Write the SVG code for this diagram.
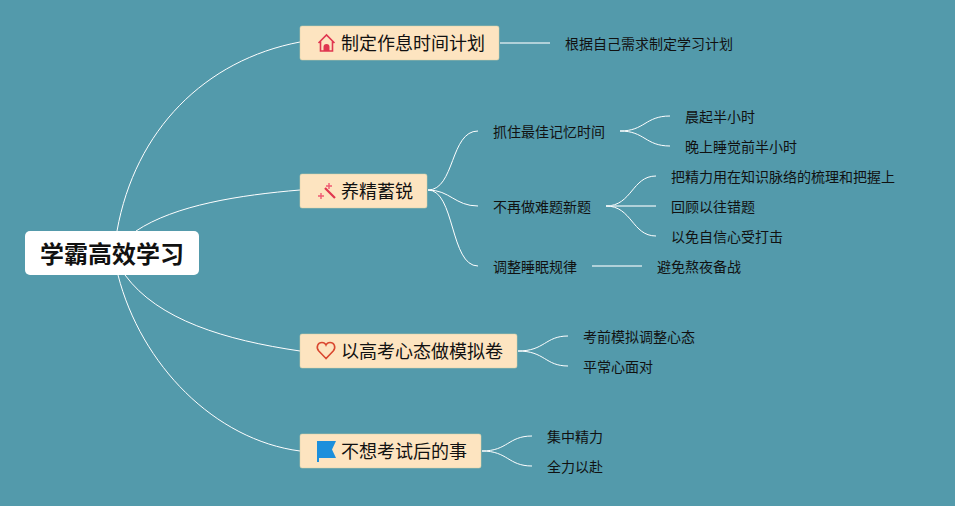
<svg xmlns="http://www.w3.org/2000/svg" width="955" height="506" viewBox="0 0 955 506">
<style>
text{font-family:"Liberation Sans","Noto Sans CJK SC",sans-serif;fill:#111}
.t{font-size:14px;dominant-baseline:central}
.m{font-size:18px;dominant-baseline:central}
.b{fill:#fde4c0;stroke:#d6d0a8;stroke-width:.5}
.c{fill:none;stroke:#fff;stroke-width:1}
.s{fill:none;stroke:#cfe3e8;stroke-width:1.5}
</style>
<rect width="955" height="506" fill="#539aab"/>
<g id="connectors">
<path class="c" d="M117 231C135 130 205 60 300 42"/>
<path class="c" d="M136 231C175 205 240 195 300 190"/>
<path class="c" d="M125 275C158 320 225 340 300 351"/>
<path class="c" d="M118 275C141 365 215 440 300 451"/>
<path class="s" d="M500 43H550"/>
<path class="c" d="M428 190C455 190 450 131 478 131"/>
<path class="c" d="M428 190C450 190 455 206 478 206"/>
<path class="c" d="M428 190C455 190 450 266 478 266"/>
<path class="c" stroke-width="1.300" d="M620 131C645 131 645 116 670 116"/>
<path class="c" stroke-width="1.300" d="M620 131C645 131 645 146 670 146"/>
<path class="c" d="M606 206C632 206 632 176 656 176"/>
<path class="s" d="M606 206H656"/>
<path class="c" d="M606 206C632 206 632 236 656 236"/>
<path class="s" d="M592 266H642"/>
<path class="c" stroke-width="1.300" d="M518 351C545 351 545 336 568 336"/>
<path class="c" stroke-width="1.300" d="M518 351C545 351 545 366 568 366"/>
<path class="c" stroke-width="1.300" d="M482 451C508 451 508 436 532 436"/>
<path class="c" stroke-width="1.300" d="M482 451C508 451 508 466 532 466"/>
</g>
<g id="root">
<rect x="25" y="231" width="174" height="44" rx="5" fill="#fff"/>
<text x="112" y="254" font-size="24" font-weight="700" text-anchor="middle" dominant-baseline="central">学霸高效学习</text>
</g>
<g id="n1">
<rect class="b" x="300" y="26" width="199" height="34" rx="2"/>
<path d="M318.500 43L326.500 35L334.500 43M320.500 41.500V51H332.500V41.500" fill="none" stroke="#e0364f" stroke-width="1.600"/>
<path d="M323.500 51V47a3 3 0 0 1 6 0V51Z" fill="#e0364f"/>
<text class="m" x="341" y="44">制定作息时间计划</text>
</g>
<g id="n2">
<rect class="b" x="300" y="174" width="127" height="34" rx="2"/>
<path d="M325 188L335 198" stroke="#e0364f" stroke-width="2.200" fill="none"/>
<path d="M318 196h6M321 193v6M329 183v6M326 186h6" stroke="#ef5a72" stroke-width="1.400" fill="none"/>
<text class="m" x="341" y="192">养精蓄锐</text>
</g>
<g id="n3">
<rect class="b" x="300" y="334" width="217" height="34" rx="2"/>
<path d="M326 358.500L318.800 351C315.500 347 318 342.500 322 342.500C324 342.500 325.300 343.500 326 345C326.700 343.500 328 342.500 330 342.500C334 342.500 336.500 347 333.200 351Z" fill="none" stroke="#d9472f" stroke-width="1.600"/>
<text class="m" x="341" y="352">以高考心态做模拟卷</text>
</g>
<g id="n4">
<rect class="b" x="300" y="434" width="181" height="34" rx="2"/>
<path d="M317 441H336L332 449.500L336 458H319V462H317Z" fill="#1c8fdc"/>
<text class="m" x="341" y="452">不想考试后的事</text>
</g>
<g id="l1"><text class="t" x="565" y="44">根据自己需求制定学习计划</text></g>
<g id="l2"><text class="t" x="493" y="132">抓住最佳记忆时间</text></g>
<g id="l3"><text class="t" x="493" y="207">不再做难题新题</text></g>
<g id="l4"><text class="t" x="493" y="267">调整睡眠规律</text></g>
<g id="l5"><text class="t" x="685" y="117">晨起半小时</text></g>
<g id="l6"><text class="t" x="685" y="147">晚上睡觉前半小时</text></g>
<g id="l7"><text class="t" x="671" y="177">把精力用在知识脉络的梳理和把握上</text></g>
<g id="l8"><text class="t" x="671" y="207">回顾以往错题</text></g>
<g id="l9"><text class="t" x="671" y="237">以免自信心受打击</text></g>
<g id="l10"><text class="t" x="657" y="267">避免熬夜备战</text></g>
<g id="l11"><text class="t" x="583" y="337">考前模拟调整心态</text></g>
<g id="l12"><text class="t" x="583" y="367">平常心面对</text></g>
<g id="l13"><text class="t" x="547" y="437">集中精力</text></g>
<g id="l14"><text class="t" x="547" y="467">全力以赴</text></g>
</svg>
